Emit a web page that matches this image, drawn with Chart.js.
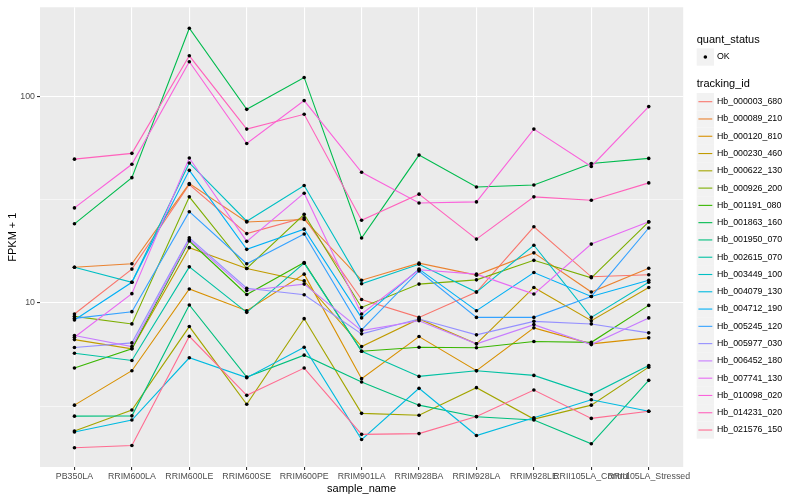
<!DOCTYPE html>
<html>
<head>
<meta charset="utf-8">
<script src="https://cdn.jsdelivr.net/npm/chart.js@4.4.1/dist/chart.umd.min.js"></script>
<style>
  html, body { margin: 0; padding: 0; background: #fff; }
</style>
</head>
<body>
<canvas id="chart" width="800" height="500"></canvas>
<script>
// categories
const samples = ['PB350LA', 'RRIM600LA', 'RRIM600LE', 'RRIM600SE', 'RRIM600PE', 'RRIM901LA',
  'RRIM928BA', 'RRIM928LA', 'RRIM928LE', 'RRII105LA_Control', 'RRII105LA_Stressed'];

// tracking ids and ggplot hue colours
const trackingIds = ['Hb_000003_680', 'Hb_000089_210', 'Hb_000120_810', 'Hb_000230_460', 'Hb_000622_130',
  'Hb_000926_200', 'Hb_001191_080', 'Hb_001863_160', 'Hb_001950_070', 'Hb_002615_070',
  'Hb_003449_100', 'Hb_004079_130', 'Hb_004712_190', 'Hb_005245_120', 'Hb_005977_030',
  'Hb_006452_180', 'Hb_007741_130', 'Hb_010098_020', 'Hb_014231_020', 'Hb_021576_150'];
const colours = ['#F8766D', '#EA8331', '#D89000', '#C09B00', '#A3A500', '#7CAE00', '#39B600', '#00BB4E',
  '#00BF7D', '#00C1A3', '#00BFC4', '#00BAE0', '#00B0F6', '#35A2FF', '#9590FF', '#C77CFF',
  '#E76BF3', '#FA62DB', '#FF62BC', '#FF6C91'];

// FPKM + 1 per sample
const hb_000003_680 = [8.85, 14.6, 37.5, 21.7, 25.9, 10.4, 8.52, 11.3, 23.4, 13.4, 13.7];
const hb_000089_210 = [14.9, 15.5, 37.9, 24.7, 25.4, 12.9, 15.6, 13.65, 17.5, 11.3, 14.75];
const hb_000120_810 = [3.20, 4.70, 11.7, 9.18, 13.8, 4.30, 6.88, 4.70, 7.58, 6.34, 6.78];
const hb_000230_460 = [6.65, 6.00, 18.55, 14.7, 12.8, 6.15, 8.37, 6.34, 11.9, 8.21, 11.9];
const hb_000622_130 = [2.40, 3.03, 7.69, 3.23, 8.40, 2.92, 2.86, 3.89, 2.74, 3.20, 4.89];
const hb_000926_200 = [8.62, 7.92, 32.7, 14.7, 26.9, 9.52, 12.35, 12.95, 16.1, 13.25, 24.7];
const hb_001191_080 = [4.84, 6.00, 19.98, 11.0, 15.7, 5.84, 6.11, 6.07, 6.51, 6.45, 9.74];
const hb_001863_160 = [24.2, 40.5, 214.5, 86.8, 123.9, 20.65, 52.1, 36.5, 37.3, 47.4, 50.2];
const hb_001950_070 = [2.83, 2.84, 9.78, 4.38, 5.59, 4.14, 3.20, 2.81, 2.71, 2.08, 4.22];
const hb_002615_070 = [5.71, 5.27, 14.97, 9.01, 15.6, 5.84, 4.41, 4.70, 4.46, 3.60, 4.98];
const hb_003449_100 = [14.9, 12.6, 47.7, 24.9, 37.1, 12.4, 15.4, 11.3, 19.05, 8.52, 12.6];
const hb_004079_130 = [2.37, 2.71, 5.43, 4.35, 6.11, 2.18, 3.86, 2.28, 2.78, 3.40, 2.99];
const hb_004712_190 = [8.28, 12.6, 43.95, 18.2, 22.8, 8.47, 14.6, 9.18, 14.05, 10.76, 12.9];
const hb_005245_120 = [8.43, 9.08, 27.7, 15.5, 21.6, 7.41, 14.3, 8.52, 8.52, 10.76, 23.1];
const hb_005977_030 = [6.09, 6.41, 20.7, 11.8, 10.96, 7.09, 8.37, 7.01, 8.15, 7.92, 7.17];
const hb_006452_180 = [6.96, 6.15, 20.3, 11.5, 12.35, 7.35, 8.21, 6.34, 7.86, 6.29, 8.47];
const hb_007741_130 = [6.83, 11.1, 50.4, 19.9, 34.05, 8.85, 14.5, 13.8, 11.05, 19.3, 24.75];
const hb_010098_020 = [28.9, 47.0, 147.5, 59.3, 95.7, 43.0, 30.5, 30.9, 69.6, 45.9, 89.5];
const hb_014231_020 = [49.8, 53.1, 157.7, 69.6, 82.1, 25.2, 33.7, 20.4, 32.7, 31.5, 38.2];
const hb_021576_150 = [1.99, 2.04, 6.90, 3.57, 4.84, 2.31, 2.33, 2.82, 3.79, 2.76, 2.99];

const seriesValues = [hb_000003_680, hb_000089_210, hb_000120_810, hb_000230_460, hb_000622_130,
  hb_000926_200, hb_001191_080, hb_001863_160, hb_001950_070, hb_002615_070,
  hb_003449_100, hb_004079_130, hb_004712_190, hb_005245_120, hb_005977_030,
  hb_006452_180, hb_007741_130, hb_010098_020, hb_014231_020, hb_021576_150];

// y breaks (log10), labelled and minor
const yMajor = [10, 100];
const yMinor = [3.1623, 31.623];

Chart.defaults.font.family = '"Liberation Sans", Arial, sans-serif';

const lineSets = trackingIds.map((id, k) => ({
  label: id,
  data: seriesValues[k].map((v, i) => ({ x: i, y: v })),
  borderColor: colours[k],
  backgroundColor: colours[k],
  borderWidth: 1.1,
  pointRadius: 0,
  tension: 0,
  order: 1 + trackingIds.length - k
}));

const pointSet = {
  label: 'OK',
  data: seriesValues.flatMap(vals => vals.map((v, i) => ({ x: i, y: v }))),
  showLine: false,
  pointRadius: 1.8,
  pointBorderWidth: 0,
  pointBackgroundColor: '#000',
  order: 0
};

const panelBg = {
  id: 'panelBg',
  beforeDraw(chart) {
    const { ctx, chartArea: a } = chart;
    ctx.save();
    ctx.fillStyle = '#EBEBEB';
    ctx.fillRect(a.left, a.top, a.right - a.left, a.bottom - a.top);
    ctx.restore();
  }
};

// ggplot style legend on the right
const sideLegend = {
  id: 'sideLegend',
  afterDraw(chart) {
    const ctx = chart.ctx;
    const x0 = 696.7, key = 17.3, step = 17.28;
    ctx.save();
    ctx.textBaseline = 'middle';
    ctx.textAlign = 'left';
    ctx.fillStyle = '#000';
    ctx.font = '11px "Liberation Sans", Arial, sans-serif';
    ctx.fillText('quant_status', x0, 40);
    ctx.fillStyle = '#F2F2F2';
    ctx.fillRect(x0, 57 - key / 2, key, key);
    ctx.fillStyle = '#000';
    ctx.beginPath();
    ctx.arc(x0 + key / 2, 57, 1.8, 0, Math.PI * 2);
    ctx.fill();
    ctx.font = '8.8px "Liberation Sans", Arial, sans-serif';
    ctx.fillText(pointSet.label, x0 + key + 3, 57);

    ctx.font = '11px "Liberation Sans", Arial, sans-serif';
    ctx.fillText('tracking_id', x0, 84.3);
    ctx.font = '8.8px "Liberation Sans", Arial, sans-serif';
    lineSets.forEach((ds, i) => {
      const cy = 101.7 + i * step;
      ctx.fillStyle = '#F2F2F2';
      ctx.fillRect(x0, cy - key / 2, key, key);
      ctx.strokeStyle = ds.borderColor;
      ctx.lineWidth = 1.1;
      ctx.beginPath();
      ctx.moveTo(x0 + 1.7, cy);
      ctx.lineTo(x0 + key - 1.7, cy);
      ctx.stroke();
      ctx.fillStyle = '#000';
      ctx.fillText(ds.label, x0 + key + 3, cy);
    });
    ctx.restore();
  }
};

new Chart(document.getElementById('chart'), {
  type: 'line',
  data: { datasets: [pointSet, ...lineSets] },
  options: {
    responsive: false,
    animation: false,
    devicePixelRatio: 1,
    layout: { padding: { top: 5.3, right: 116.8, bottom: 0, left: 0 } },
    plugins: { legend: { display: false }, tooltip: { enabled: false } },
    scales: {
      x: {
        type: 'linear',
        min: -0.6,
        max: 10.6,
        afterBuildTicks: s => { s.ticks = samples.map((_, i) => ({ value: i })); },
        afterFit: s => { s.height = 33; },
        border: { display: false },
        grid: { color: '#FFFFFF', lineWidth: 1.1, tickLength: 3, tickColor: '#333333', tickWidth: 1.1 },
        ticks: {
          callback: v => samples[v],
          autoSkip: false, maxRotation: 0, minRotation: 0,
          color: '#4D4D4D', font: { size: 8.8 }, padding: 1
        },
        title: { display: true, text: 'sample_name', color: '#000', font: { size: 11 }, padding: { top: 0, bottom: 4.8 } }
      },
      y: {
        type: 'logarithmic',
        min: 1.605,
        max: 271,
        afterBuildTicks: s => { s.ticks = [...yMinor, ...yMajor].sort((a, b) => a - b).map(v => ({ value: v })); },
        afterFit: s => { s.width = 40; },
        border: { display: false },
        grid: {
          color: '#FFFFFF',
          lineWidth: c => yMajor.includes(c.tick.value) ? 1.1 : 0.55,
          tickLength: 3,
          tickWidth: 1.1,
          tickColor: c => yMajor.includes(c.tick.value) ? '#333333' : 'rgba(0,0,0,0)'
        },
        ticks: {
          callback: v => yMajor.includes(v) ? String(v) : '',
          autoSkip: false,
          color: '#4D4D4D', font: { size: 8.8 }, padding: 2
        },
        title: { display: true, text: 'FPKM + 1', color: '#000', font: { size: 11 }, padding: { top: 6.5, bottom: 0 } }
      }
    }
  },
  plugins: [panelBg, sideLegend]
});
</script>
</body>
</html>
